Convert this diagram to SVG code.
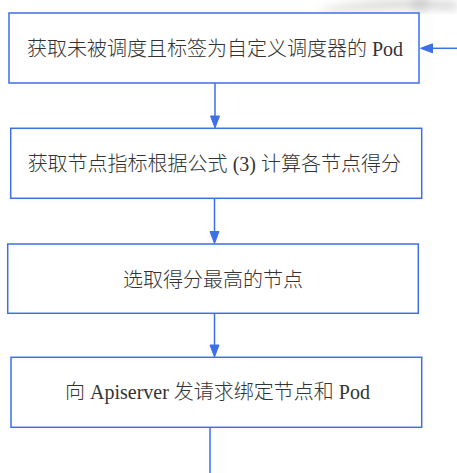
<svg xmlns="http://www.w3.org/2000/svg" width="457" height="473" viewBox="0 0 457 473">
<style>
.box{fill:#fff;stroke:#3d6fe6;stroke-width:1.5}
.lbl{font-family:"Noto Sans CJK SC",sans-serif;font-size:20px;font-weight:300;fill:#333;text-anchor:middle}
.lat{font-family:"Liberation Serif","Times New Roman",serif;font-weight:400}
.conn{stroke:#3d6fe6;stroke-width:1.5;fill:none}
.head{fill:#3d6fe6;stroke:#3d6fe6;stroke-width:1}
</style>
<defs>
<filter id="blur"><feGaussianBlur stdDeviation="4"/></filter>
</defs>
<rect width="457" height="473" fill="#fff"/>
<g id="watermark" filter="url(#blur)" opacity="0.35">
<path d="M320,10 Q380,-4 457,2 L457,10 Q400,6 320,12 Z" fill="#888"/>
<ellipse cx="420" cy="4" rx="10" ry="8" fill="#777"/>
</g>
<g id="connectors">
<line class="conn" x1="215" y1="83" x2="215" y2="118"/>
<polygon class="head" points="215,128 210.5,116 219.5,116"/>
<line class="conn" x1="214.5" y1="198" x2="214.5" y2="234"/>
<polygon class="head" points="214.5,243.5 210,231.5 219,231.5"/>
<line class="conn" x1="214.5" y1="313" x2="214.5" y2="347"/>
<polygon class="head" points="214.5,357 210,345 219,345"/>
<line class="conn" x1="210" y1="427" x2="210" y2="473"/>
<line class="conn" x1="457" y1="48.3" x2="430" y2="48.3"/>
<polygon class="head" points="420.5,48.3 432.5,43.8 432.5,52.8"/>
</g>
<g id="n1">
<rect class="box" x="9" y="13" width="410" height="70"/>
<text class="lbl" x="215" y="55.5">获取未被调度且标签为自定义调度器的<tspan class="lat"> Pod</tspan></text>
</g>
<g id="n2">
<rect class="box" x="10.7" y="128.3" width="411" height="70"/>
<text class="lbl" x="214.3" y="170.5">获取节点指标根据公式<tspan class="lat"> (3) </tspan>计算各节点得分</text>
</g>
<g id="n3">
<rect class="box" x="7.7" y="244" width="410.6" height="69.3"/>
<text class="lbl" x="213" y="286.5">选取得分最高的节点</text>
</g>
<g id="n4">
<rect class="box" x="11" y="357.3" width="410.7" height="70"/>
<text class="lbl" x="217.5" y="399">向<tspan class="lat"> Apiserver </tspan>发请求绑定节点和<tspan class="lat"> Pod</tspan></text>
</g>
</svg>
